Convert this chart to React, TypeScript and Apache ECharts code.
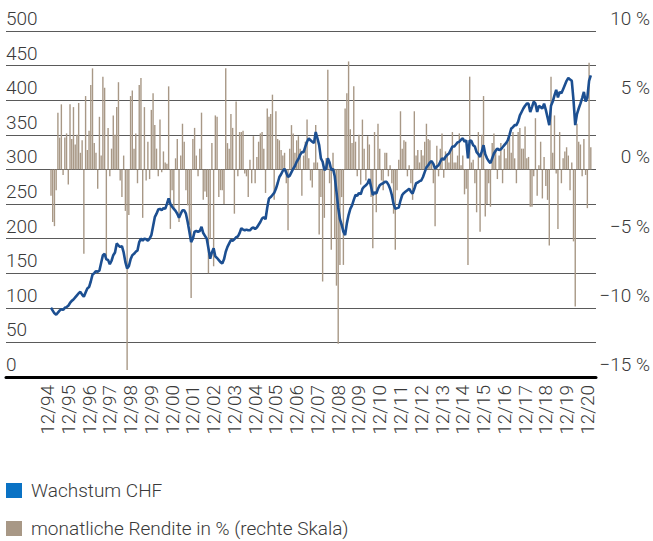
import React, { useEffect, useRef } from "react";
import * as echarts from "echarts";

// Monthly index level (Wachstum CHF), 12/94 .. 12/20
const growthCHF: number[] = [
  100, 96, 92, 90, 93, 96, 98, 97, 100, 101, 103, 107,
  110, 112, 115, 118, 121, 123, 119, 116, 122, 128, 130, 138,
  148, 150, 153, 152, 154, 165, 176, 178, 170, 169, 163, 168,
  176, 180, 193, 190, 188, 189, 180, 166, 157, 160, 170, 176,
  178, 181, 183, 195, 200, 197, 200, 199, 197, 200, 205, 218,
  231, 236, 242, 243, 241, 244, 243, 250, 258, 250, 246, 243,
  240, 236, 230, 236, 241, 241, 236, 224, 210, 195, 200, 210,
  211, 210, 211, 217, 208, 204, 200, 186, 171, 180, 186, 174,
  172, 169, 166, 164, 170, 181, 188, 193, 198, 197, 199, 202,
  203, 208, 215, 213, 212, 213, 212, 212, 215, 216, 214, 216,
  220, 224, 229, 231, 228, 245, 258, 260, 263, 266, 272, 280,
  289, 293, 298, 301, 295, 289, 291, 296, 301, 305, 311, 315,
  321, 325, 325, 333, 340, 345, 342, 340, 338, 354, 345, 335,
  316, 311, 299, 301, 316, 310, 299, 301, 290, 268, 245, 228,
  220, 210, 205, 222, 234, 243, 248, 256, 263, 262, 266, 264,
  272, 275, 277, 280, 286, 275, 263, 267, 265, 272, 277, 279,
  280, 282, 282, 278, 272, 263, 250, 243, 244, 245, 255, 263,
  266, 268, 270, 272, 268, 265, 272, 280, 281, 283, 284, 289,
  296, 303, 306, 310, 312, 308, 301, 304, 306, 311, 316, 314,
  318, 321, 323, 328, 333, 333, 336, 339, 340, 343, 345, 340,
  342, 316, 342, 341, 335, 333, 325, 322, 318, 326, 335, 322,
  316, 312, 309, 316, 323, 327, 330, 328, 329, 332, 335, 338,
  342, 350, 359, 361, 364, 364, 369, 378, 383, 388, 392, 395,
  395, 383, 390, 398, 395, 383, 392, 390, 388, 395, 386, 375,
  364, 392, 398, 407, 415, 404, 412, 410, 416, 422, 428, 432,
  430, 428, 400, 364, 380, 388, 395, 403, 412, 398, 404, 428, 436,
];

// Monthly return in % (right scale)
const monthlyReturn: number[] = [
  -1.9, -3.8, -4.1, -1.5, 4.1, 2.3, 4.7, -0.4, 2.3, 2.6, -1.1, 4.7,
  2.2, 4.5, 1.8, 2.5, 4.8, 1.2, 2.1, -6.1, 5.3, 1.4, 2.8, 6.1,
  7.3, 1.9, 1.2, -1.4, 3.8, 1.0, 6.7, 5.9, -6.3, 3.0, -0.5, 1.5,
  3.9, 2.5, 4.5, 6.3, -0.8, -2.0, 1.0, -3.0, -14.5, -3.3, 5.3, 5.7,
  1.5, 2.6, -1.0, 6.1, 6.6, -3.5, 4.5, -0.8, 2.0, -0.7, 4.3, 5.5,
  3.2, 1.5, -0.5, 3.6, -0.2, 1.3, 0.5, 0.4, 6.0, -4.3, -1.5, -2.9,
  0.8, 2.2, -3.8, 1.0, 3.3, 2.0, -1.5, -2.6, -4.0, -9.3, 2.2, 3.0,
  1.0, -0.5, 1.5, 4.1, -2.2, -1.6, -2.0, -7.5, -5.0, 1.9, -7.0, 3.9,
  3.8, -2.0, -1.5, -1.5, -2.5, 7.3, 1.9, 1.5, 4.0, 3.0, -3.2, 4.9,
  -0.5, 2.7, 2.7, 2.8, -0.3, -0.5, -2.0, 0.7, -1.0, 2.4, -1.0, 0.9,
  2.0, 2.6, 2.7, 1.5, -1.7, 4.4, 3.8, 4.0, 5.4, -2.2, 4.2, 2.2,
  2.1, 1.4, 1.0, 1.2, -1.0, -4.4, 1.5, 3.2, 2.6, 1.2, 2.1, 2.4,
  1.5, -1.9, 1.0, 2.0, 3.6, 0.8, -0.8, -1.3, 0.5, 3.2, 0.5, -4.7,
  -2.0, -8.1, -3.5, 0.8, 7.2, -1.0, -5.8, 1.2, -5.0, -8.4, -12.6, -6.9,
  -2.0, -6.9, 4.4, 5.5, 7.8, 2.9, 1.9, 6.0, 2.0, -0.5, 2.5, -1.1,
  3.6, 1.5, -0.8, 2.4, 1.8, -2.0, -5.7, 2.7, -3.1, 3.3, 1.5, -0.8,
  -1.5, 1.2, 1.2, -0.5, 0.3, -1.0, -3.2, -5.8, -1.5, 0.7, 4.2, 1.5,
  2.1, 2.0, -0.5, 0.3, -1.0, -2.2, 4.2, 1.0, 1.4, 0.5, 1.4, 1.0,
  2.0, 3.3, 2.2, 2.1, 0.5, -1.0, -4.1, 1.7, -0.5, 1.5, 2.6, -0.6,
  1.3, 1.0, 0.5, 1.5, 2.7, 0.5, 0.5, 1.0, 2.6, 0.3, 1.0, -1.8,
  -1.4, -6.9, 6.7, 0.5, 0.7, -1.0, -3.1, 2.7, -4.5, 2.5, 5.3, -3.4,
  -2.5, -1.0, -2.7, 1.9, 2.6, 1.5, -0.7, 1.0, 1.9, -1.0, 1.5, 0.8,
  2.0, 2.3, 1.2, 2.7, 0.8, -1.0, 2.7, 3.0, 1.5, 1.5, 3.1, 0.8,
  0.9, -2.7, -2.7, -0.5, 3.7, -1.9, 0.3, 2.0, -2.1, 0.9, -1.2, -2.2,
  -5.5, 6.7, 1.2, 3.9, -0.3, -4.3, 2.7, -1.0, 0.8, 1.3, 1.6, 1.0,
  -1.5, 0.5, -5.2, -9.9, 3.3, 2.0, 1.8, -0.5, 2.2, -0.4, -2.8, 7.7, 1.6,
];

// Year-end tick labels (one per 12 months from 12/94)
const yearTickLabels: string[] = [
  "12/94", "12/95", "12/96", "12/97", "12/98", "12/99", "12/00", "12/01", "12/02",
  "12/03", "12/04", "12/05", "12/06", "12/07", "12/08", "12/09", "12/10", "12/11",
  "12/12", "12/13", "12/14", "12/15", "12/16", "12/17", "12/18", "12/19", "12/20",
];

const seriesNames = ["Wachstum CHF", "monatliche Rendite in % (rechte Skala)"];

const FONT = "Roboto, 'Liberation Sans', Arial, sans-serif";
const TXT = "#3a3a3a";
// rotated year labels sit slightly left of their month in the original
const LABEL_SHIFT = 2;

export default function App() {
  const ref = useRef<HTMLDivElement>(null);
  useEffect(() => {
    if (!ref.current) return;
    const chart = echarts.init(ref.current, null, { renderer: "svg" });
    const tickValues = yearTickLabels.map((_, i) => i * 12 - LABEL_SHIFT);
    chart.setOption({
      animation: false,
      backgroundColor: "#ffffff",
      textStyle: { fontFamily: FONT, fontWeight: 300 },
      grid: { left: 6, right: 56, top: 31, bottom: 164, containLabel: false },
      legend: {
        orient: "vertical",
        left: 6,
        top: 481,
        padding: 0,
        itemWidth: 16,
        itemHeight: 15,
        itemGap: 19,
        icon: "rect",
        textStyle: { fontSize: 19, color: TXT, fontFamily: FONT, fontWeight: 300, padding: [0, 0, 0, 4] },
        data: [
          { name: seriesNames[0], itemStyle: { color: "#0a72c4" } },
          { name: seriesNames[1], itemStyle: { color: "#a89886" } },
        ],
      },
      xAxis: {
        type: "value",
        min: -26,
        max: 315,
        splitLine: { show: false },
        axisTick: { show: false },
        axisLine: { show: true, onZero: false, lineStyle: { color: "#000", width: 3 } },
        axisLabel: {
          customValues: tickValues,
          rotate: 90,
          margin: 8,
          fontSize: 19,
          color: TXT,
          fontFamily: FONT,
          fontWeight: 300,
          formatter: (v: number) => {
            const i = Math.round((v + LABEL_SHIFT) / 12);
            return yearTickLabels[i] ?? "";
          },
        },
      },
      yAxis: [
        {
          type: "value",
          min: 0,
          max: 500,
          interval: 50,
          position: "left",
          axisLine: { show: false },
          axisTick: { show: false },
          splitLine: { show: true, lineStyle: { color: "#5a5a5a", width: 1 } },
          axisLabel: {
            inside: true,
            margin: 0,
            fontSize: 19,
            color: TXT,
            fontFamily: FONT,
            fontWeight: 300,
            verticalAlign: "bottom",
            lineHeight: 19,
            padding: [0, 0, 3, 0],
          },
        },
        {
          type: "value",
          min: -15,
          max: 10,
          interval: 5,
          position: "right",
          axisLine: { show: false },
          axisTick: { show: false },
          splitLine: { show: false },
          axisLabel: {
            margin: 54,
            align: "right",
            fontSize: 19,
            color: TXT,
            fontFamily: FONT,
            fontWeight: 300,
            verticalAlign: "bottom",
            lineHeight: 19,
            padding: [0, 0, 3, 0],
            formatter: (v: number) => (v < 0 ? "\u2212" + Math.abs(v) + " %" : v + " %"),
          },
        },
      ],
      series: [
        {
          name: seriesNames[1],
          type: "bar",
          yAxisIndex: 1,
          barWidth: 1.4,
          itemStyle: { color: "#a89886" },
          data: monthlyReturn.map((v, i) => [i, v]),
          z: 2,
        },
        {
          name: seriesNames[0],
          type: "line",
          yAxisIndex: 0,
          showSymbol: false,
          symbol: "none",
          lineStyle: { color: "#1c4f91", width: 2.6 },
          data: growthCHF.map((v, i) => [i, v]),
          z: 3,
        },
      ],
    });
    return () => chart.dispose();
  }, []);
  return (
    <div
      ref={ref}
      style={{ position: "fixed", left: 0, top: 0, width: 653, height: 541, background: "#fff" }}
    />
  );
}
